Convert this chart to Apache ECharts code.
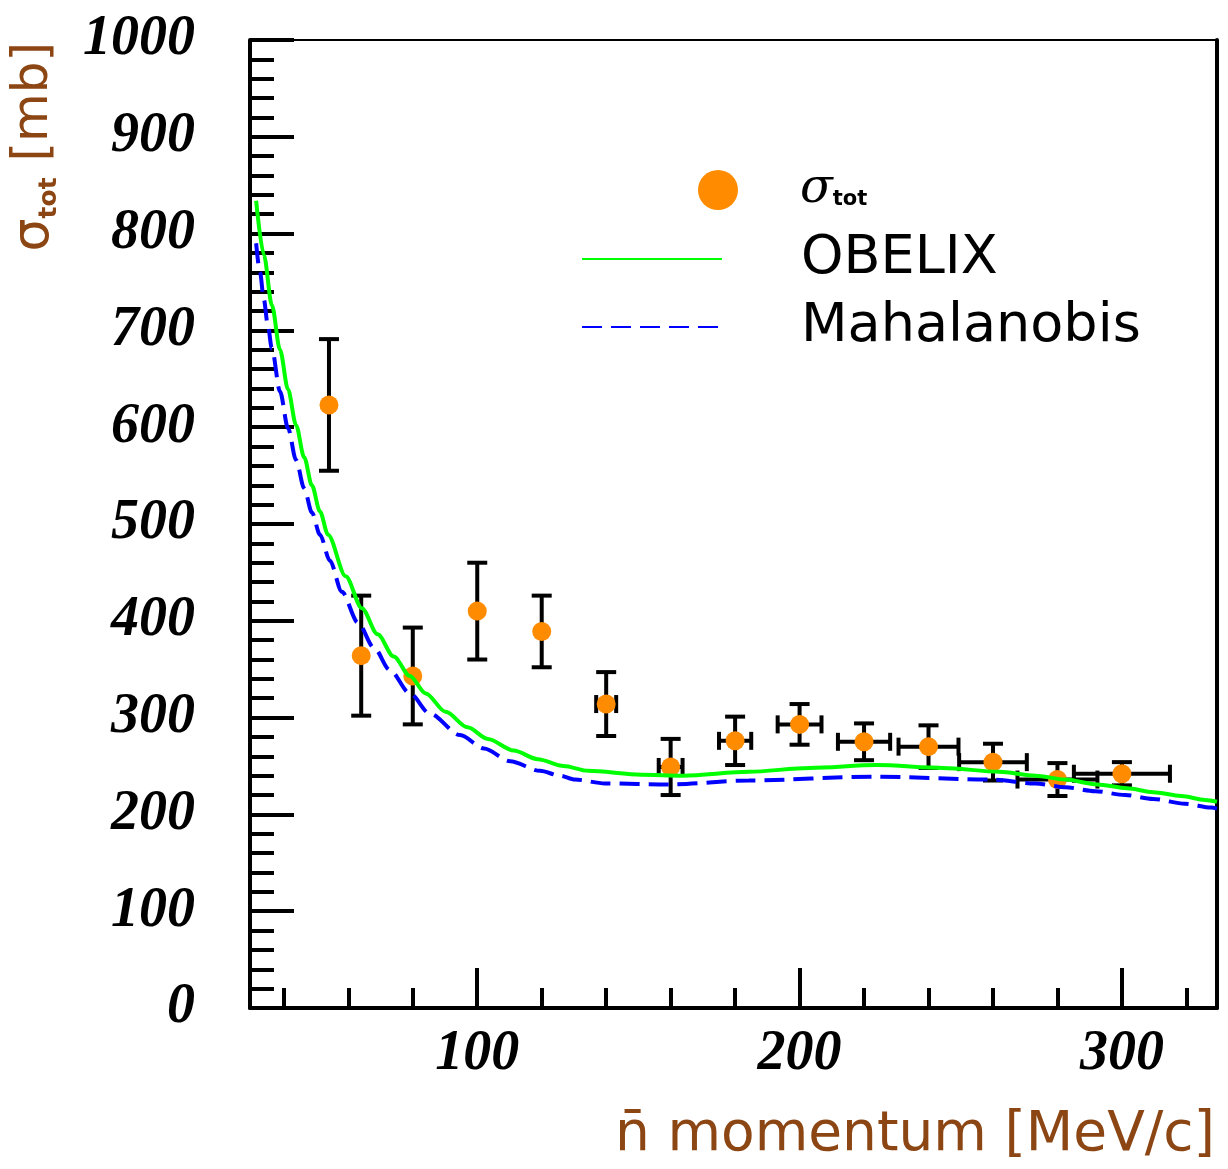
<!DOCTYPE html>
<html>
<head>
<meta charset="utf-8">
<title>Antineutron total cross section</title>
<script src="https://cdn.jsdelivr.net/npm/echarts@6/dist/echarts.min.js"></script>
<style>
  html, body { margin: 0; padding: 0; background: #ffffff; }
  #chart { width: 1228px; height: 1169px; }
</style>
</head>
<body>
<div id="chart"></div>
<script>
// Measured total cross section (mb) vs antineutron momentum (MeV/c)
const momentum    = [54, 64, 80, 100, 120, 140, 160, 180, 200, 220, 240, 260, 280, 300];
const sigmaTot    = [623, 364, 343, 410, 389, 314, 249, 276, 293, 275, 270, 254, 236, 242];
const sigmaErr    = [68, 62, 50, 50, 37, 33, 29, 25, 21, 19, 22, 19, 17, 12];
const momentumErr = [0, 0, 0, 0, 0, 3.1, 3.7, 5, 6.8, 8.1, 9.3, 10.5, 12.4, 14.9];

// OBELIX curve
const obelixP = [31.4, 33.8, 36.3, 38.8, 41.3, 43.8, 46.3, 48.7, 51.2, 53.7, 59.2, 64.2, 69.1, 74.1, 79.1, 84.0, 90.2, 97.0, 103.3, 111.3, 118.8, 126.8, 134.3, 151.0, 163.8, 184.3, 203.0, 224.0, 244.5, 261.9, 273.1, 282.4, 292.3, 301.6, 309.7, 318.4, 325.8, 329.5];
const obelixSigma = [834, 778, 726, 680, 639, 602, 569, 540, 513, 489, 446, 413, 386, 363, 343, 325, 306, 290, 278, 266, 257, 250, 245, 241, 240, 244, 248, 251, 248, 244, 240, 236, 231, 227, 223, 219, 215, 213];

// Mahalanobis curve
const mahalP = [31.4, 32.6, 33.8, 35.0, 36.3, 38.8, 41.3, 43.8, 46.3, 48.7, 51.2, 54.3, 58.0, 63.0, 68.0, 72.9, 79.1, 85.3, 94.7, 102.1, 110.2, 119.5, 125.7, 130.3, 139.6, 159.8, 184.3, 222.8, 259.4, 273.1, 282.4, 291.7, 301.0, 309.7, 319.6, 327.7, 329.5];
const mahalSigma = [790, 760, 732, 706, 681, 637, 599, 566, 537, 512, 489, 462, 430, 398, 372, 349, 325, 304, 282, 268, 255, 245, 240, 236, 232, 231, 235, 239, 236, 232, 228, 224, 220, 216, 211, 207, 206];

// Axis ticks
const xMajorTicks = [100, 200, 300];
const xMinorTicks = [40, 60, 80, 120, 140, 160, 180, 220, 240, 260, 280, 320];
const X_MIN = 29.5, X_MAX = 329.5;
const Y_MIN = 0, Y_MAX = 1000, Y_STEP = 100;

const BROWN = '#8c4614';
const tickFont = {
  color: '#000', fontFamily: 'Liberation Serif', fontWeight: 'bold', fontStyle: 'italic', fontSize: 56,
  formatter: (v) => String(v)
};

const zip = (a, b) => a.map((v, i) => [v, b[i]]);
const errData = momentum.map((p, i) => [p, sigmaTot[i], momentumErr[i], sigmaErr[i]]);

function renderErrorBar(params, api) {
  const x = api.value(0), y = api.value(1), ex = api.value(2), ey = api.value(3);
  const c = api.coord([x, y]);
  const hi = api.coord([x, y + ey]);
  const lo = api.coord([x, y - ey]);
  const st = () => ({ stroke: '#000', lineWidth: 4 });
  const capW = 10, capH = 9;
  const kids = [
    { type: 'line', shape: { x1: c[0], y1: hi[1], x2: c[0], y2: lo[1] }, style: st() },
    { type: 'line', shape: { x1: c[0] - capW, y1: hi[1], x2: c[0] + capW, y2: hi[1] }, style: st() },
    { type: 'line', shape: { x1: c[0] - capW, y1: lo[1], x2: c[0] + capW, y2: lo[1] }, style: st() }
  ];
  if (ex > 0) {
    const l = api.coord([x - ex, y]), r = api.coord([x + ex, y]);
    kids.push({ type: 'line', shape: { x1: l[0], y1: c[1], x2: r[0], y2: c[1] }, style: st() });
    kids.push({ type: 'line', shape: { x1: l[0], y1: c[1] - capH, x2: l[0], y2: c[1] + capH }, style: st() });
    kids.push({ type: 'line', shape: { x1: r[0], y1: c[1] - capH, x2: r[0], y2: c[1] + capH }, style: st() });
  }
  return { type: 'group', children: kids };
}

const gridBox = { left: 250, right: 11, top: 40, bottom: 161 };

const option = {
  backgroundColor: '#ffffff',
  animation: false,
  grid: [
    Object.assign({ show: true, borderColor: '#000', borderWidth: 2, backgroundColor: 'transparent', containLabel: false, outerBoundsMode: 'none' }, gridBox),
    Object.assign({ show: false, containLabel: false, outerBoundsMode: 'none' }, gridBox)
  ],
  legend: [
    {
      data: ['σtot'],
      orient: 'vertical', left: 698, top: 166, padding: 0,
      itemWidth: 40, itemHeight: 40,
      formatter: () => '{s|σ}{t|tot}',
      textStyle: {
        padding: [0, 0, 0, 57],
        rich: {
          s: { fontFamily: 'DejaVu Serif', fontStyle: 'italic', fontSize: 48, lineHeight: 40, color: '#000' },
          t: { fontFamily: 'DejaVu Sans', fontWeight: 'bold', fontSize: 21, lineHeight: 8, verticalAlign: 'bottom', color: '#000' }
        }
      }
    },
    {
      data: ['OBELIX', 'Mahalanobis'],
      orient: 'vertical', left: 581, top: 231, padding: 0,
      itemWidth: 140, itemHeight: 56, itemGap: 12,
      itemStyle: { opacity: 0 },
      lineStyle: { opacity: 1 },
      textStyle: {
        padding: [0, 0, 0, 74],
        fontFamily: 'DejaVu Sans', fontSize: 54, lineHeight: 56, color: '#000'
      }
    }
  ],
  xAxis: [
    {
      type: 'value', gridIndex: 0, min: X_MIN, max: X_MAX, position: 'bottom',
      axisLine: { show: true, onZero: false, lineStyle: { color: '#000', width: 4 } },
      axisTick: { show: true, inside: true, length: 40, customValues: xMajorTicks, lineStyle: { color: '#000', width: 4 } },
      axisLabel: Object.assign({ show: true, customValues: xMajorTicks, margin: 19 }, tickFont),
      splitLine: { show: false },
      name: 'n\u0304 momentum [MeV/c]',
      nameLocation: 'end', nameGap: -2, nameMoveOverlap: false,
      nameTextStyle: {
        fontFamily: 'DejaVu Sans', fontSize: 55, color: BROWN,
        align: 'right', verticalAlign: 'top', padding: [100, 0, 0, 0]
      }
    },
    {
      type: 'value', gridIndex: 1, min: X_MIN, max: X_MAX, position: 'bottom',
      axisLine: { show: false },
      axisTick: { show: true, inside: true, length: 20, customValues: xMinorTicks, lineStyle: { color: '#000', width: 4 } },
      axisLabel: { show: false },
      splitLine: { show: false }
    }
  ],
  yAxis: [
    {
      type: 'value', gridIndex: 0, min: Y_MIN, max: Y_MAX, interval: Y_STEP, position: 'left',
      axisLine: { show: true, onZero: false, lineStyle: { color: '#000', width: 4 } },
      axisTick: { show: true, inside: true, length: 44, lineStyle: { color: '#000', width: 4 } },
      minorTick: { show: true, splitNumber: 5, length: 24, lineStyle: { color: '#000', width: 4 } },
      axisLabel: Object.assign({ margin: 55 }, tickFont),
      splitLine: { show: false },
      name: '{s|σ}{t|tot}{m| [mb]}',
      nameLocation: 'end', nameRotate: 90, nameGap: -2, nameMoveOverlap: false,
      nameTextStyle: {
        align: 'right', verticalAlign: 'bottom', padding: [0, 0, 188, 0],
        color: BROWN,
        rich: {
          s: { fontFamily: 'DejaVu Sans', fontSize: 52, lineHeight: 56, color: BROWN },
          t: { fontFamily: 'DejaVu Sans', fontWeight: 'bold', fontSize: 25, lineHeight: 10, verticalAlign: 'bottom', color: BROWN },
          m: { fontFamily: 'DejaVu Sans', fontSize: 50, lineHeight: 56, color: BROWN }
        }
      }
    },
    {
      type: 'value', gridIndex: 0, min: Y_MIN, max: Y_MAX, position: 'right',
      axisLine: { show: true, onZero: false, lineStyle: { color: '#000', width: 4 } },
      axisTick: { show: false }, axisLabel: { show: false }, splitLine: { show: false }
    },
    {
      type: 'value', gridIndex: 1, min: Y_MIN, max: Y_MAX, show: false,
      splitLine: { show: false }
    }
  ],
  series: [
    {
      name: 'errors', type: 'custom', xAxisIndex: 0, yAxisIndex: 0,
      renderItem: renderErrorBar, data: errData,
      encode: { x: 0, y: 1 }, z: 2, silent: true, clip: true
    },
    {
      name: 'σtot', type: 'scatter', xAxisIndex: 0, yAxisIndex: 0,
      data: zip(momentum, sigmaTot), symbol: 'circle', symbolSize: 19,
      itemStyle: { color: '#ff8c00', opacity: 1 }, z: 3
    },
    {
      name: 'OBELIX', type: 'line', xAxisIndex: 0, yAxisIndex: 0,
      data: zip(obelixP, obelixSigma), symbol: 'none', smooth: 0.3, smoothMonotone: 'x',
      lineStyle: { color: '#00ff00', width: 4 }, itemStyle: { color: '#00ff00' }, z: 4
    },
    {
      name: 'Mahalanobis', type: 'line', xAxisIndex: 0, yAxisIndex: 0,
      data: zip(mahalP, mahalSigma), symbol: 'none', smooth: 0.3, smoothMonotone: 'x',
      lineStyle: { color: '#0000ff', width: 4, type: [20, 9] }, itemStyle: { color: '#0000ff' }, z: 4
    }
  ]
};

const chart = echarts.init(document.getElementById('chart'), null, { renderer: 'canvas' });
chart.setOption(option);
</script>
</body>
</html>
